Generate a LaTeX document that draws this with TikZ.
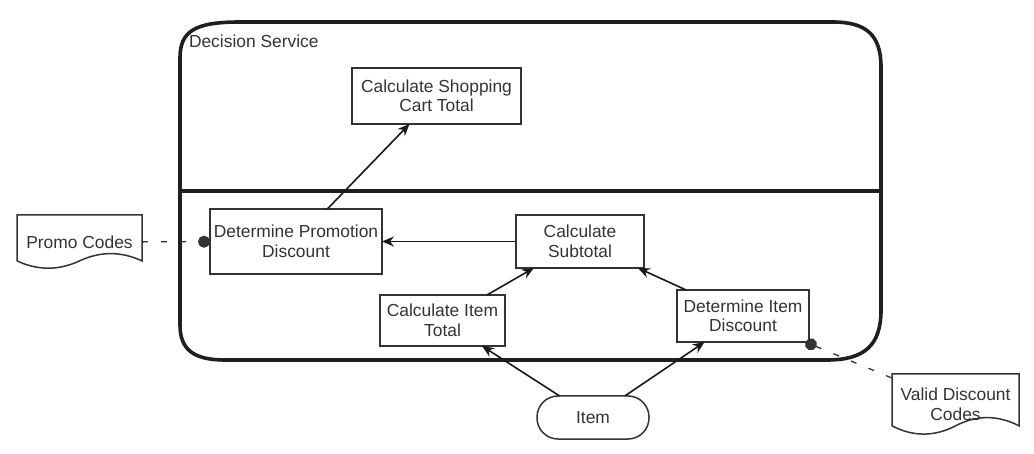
\documentclass[tikz,border=0pt]{standalone}
\usepackage{fontspec}
\setmainfont{Liberation Sans}
\usetikzlibrary{arrows.meta,calc}
\definecolor{txt}{HTML}{333333}
\begin{document}
\begin{tikzpicture}[x=1pt,y=-1pt,
  lbl/.style={font=\fontsize{17.4}{19.5}\selectfont, text=txt, align=center, inner sep=0pt, outer sep=0pt},
  box/.style={lbl, draw=black!80, line width=1.5pt},
  docline/.style={draw=black!80, line width=1.5pt},
  frame/.style={draw=black!88, line width=3.6pt},
  conn/.style={line width=1.6pt, draw=black!90, -{Stealth[length=12pt,width=10pt,inset=4pt]}},
  assoc/.style={line width=1.3pt, draw=black!80, dash pattern=on 6pt off 13pt},
  ball/.style={-{Circle[length=12pt]}},
  startball/.style={{Circle[length=12pt]}-}
]
\useasboundingbox (0,0) rectangle (1034,454);

% container
\draw[frame] (180,58) .. controls (180,31) and (195,22) .. (240,22)
  -- (833,22) .. controls (866.6,22) and (881,35.5) .. (881,67)
  -- (881,310) .. controls (881,345) and (864.8,360) .. (827,360)
  -- (225,360) .. controls (193.5,360) and (180,349.5) .. (180,325) -- cycle;
\draw[frame, line width=3.2pt] (180,191) -- (881,191);
\node[lbl, anchor=west] (ds) at (189,41) {Decision Service};

% nodes
\node[box, minimum width=169pt, minimum height=56pt] (cart) at (436.5,96) {Calculate Shopping\\Cart Total};
\node[box, minimum width=172pt, minimum height=65pt] (dpd) at (296,241.5) {Determine Promotion\\Discount};
\node[box, minimum width=128pt, minimum height=53pt] (sub) at (580,241.5) {Calculate\\Subtotal};
\node[box, minimum width=125pt, minimum height=51pt] (cit) at (442.5,320.5) {Calculate Item\\Total};
\node[box, minimum width=132pt, minimum height=52pt] (did) at (743,316) {Determine Item\\Discount};
\node[box, rounded corners=21pt, minimum width=112pt, minimum height=43pt] (item) at (593,417.5) {Item};

% documents
\node[lbl, minimum width=125pt, minimum height=54pt] (promo) at (79.5,242) {Promo Codes};
\draw[docline, shift={(promo.north west)}] (0,0) -- (125,0) -- (125,45.9)
  .. controls (104.2,36.2) and (83.3,36.2) .. (62.5,45.9)
  .. controls (41.7,55.6) and (20.8,55.6) .. (0,45.9) -- cycle;
\node[lbl, minimum width=127pt, minimum height=61pt] (valid) at (955.5,404.5) {Valid Discount\\Codes};
\draw[docline, shift={(valid.north west)}] (0,0) -- (127,0) -- (127,51.85)
  .. controls (105.8,40.87) and (84.7,40.87) .. (63.5,51.85)
  .. controls (42.3,62.83) and (21.2,62.83) .. (0,51.85) -- cycle;

% connectors
\draw[conn] (dpd) -- (cart);
\draw[conn] (sub) -- (dpd);
\draw[conn] (cit) -- (sub);
\draw[conn] (did) -- (sub);
\draw[conn] (item) -- (cit);
\draw[conn] (item) -- (did);
\draw[assoc, ball] (promo) -- (dpd);
\draw[assoc, startball] (did) -- (valid);
\end{tikzpicture}
\end{document}
